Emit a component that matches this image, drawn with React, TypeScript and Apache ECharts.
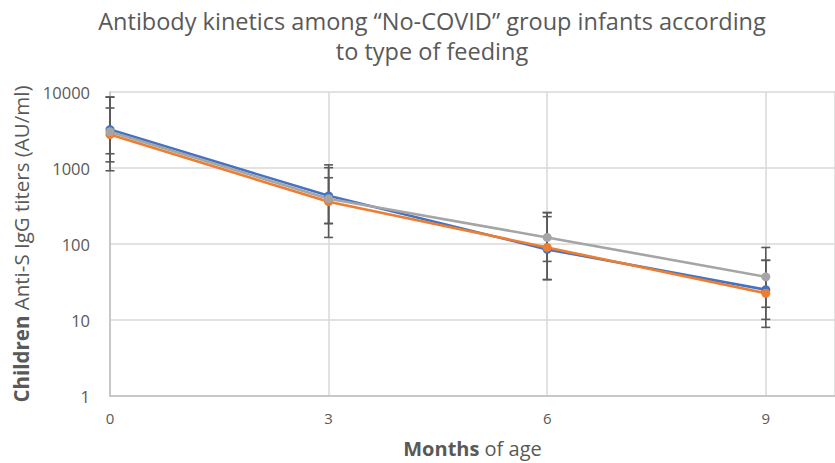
import React, { useEffect, useRef } from "react";
import * as echarts from "echarts";

const months = [0, 3, 6, 9];
const xTickLabels = ["0", "3", "6", "9"];
const yTickValues = [1, 10, 100, 1000, 10000];

const blueValues = [3200, 430, 85, 25];
const orangeValues = [2750, 360, 90, 22.5];
const grayValues = [3000, 395, 122, 37];

const blueLow = [1540, 186, 34, 10.2];
const blueHigh = [8570, 1100, 259, 61];
const orangeLow = [920, 122, 59, 8];
const orangeHigh = [6160, 745, 229, 61];
const grayLow = [1205, 186, 34, 14.7];
const grayHigh = [8570, 1010, 259, 90];

const seriesNames = ["Series1", "Series2", "Series3"];
const colors = ["#4472C4", "#ED7D31", "#A5A5A5"];

const FONT = "'Open Sans', sans-serif";
const TEXT = "#595959";

function errorSeries(low: number[], high: number[]) {
  return {
    type: "custom",
    z: 1,
    silent: true,
    data: months.map((m, i) => [m, low[i], high[i]]),
    encode: { x: 0, y: [1, 2] },
    renderItem: (params: any, api: any) => {
      const x = api.value(0);
      const p1 = api.coord([x, api.value(1)]);
      const p2 = api.coord([x, api.value(2)]);
      const w = 4.5;
      const style = { stroke: "#595959", lineWidth: 1.6 };
      return {
        type: "group",
        children: [
          { type: "line", shape: { x1: p1[0], y1: p1[1], x2: p2[0], y2: p2[1] }, style },
          { type: "line", shape: { x1: p1[0] - w, y1: p1[1], x2: p1[0] + w, y2: p1[1] }, style },
          { type: "line", shape: { x1: p2[0] - w, y1: p2[1], x2: p2[0] + w, y2: p2[1] }, style },
        ],
      };
    },
  };
}

function lineSeries(name: string, values: number[], color: string) {
  return {
    type: "line",
    name,
    z: 3,
    data: months.map((m, i) => [m, values[i]]),
    symbol: "circle",
    symbolSize: 9,
    showSymbol: true,
    lineStyle: { color, width: 2.6 },
    itemStyle: { color },
  };
}

export default function App() {
  const ref = useRef<HTMLDivElement>(null);
  useEffect(() => {
    document.body.style.margin = "0";
    const chart = echarts.init(ref.current!, null, { renderer: "svg" });
    chart.setOption({
      animation: false,
      backgroundColor: "#ffffff",
      textStyle: { fontFamily: FONT },
      title: {
        text: "Antibody kinetics among \u201cNo-COVID\u201d group infants according\nto type of feeding",
        left: 427,
        textAlign: "center",
        top: 1,
        textStyle: {
          fontFamily: FONT,
          fontSize: 23.5,
          fontWeight: "normal",
          color: TEXT,
          lineHeight: 30,
        },
      },
      grid: {
        left: 110,
        top: 92,
        width: 725,
        height: 304,
        containLabel: false,
        outerBoundsMode: "none",
      },
      xAxis: {
        type: "value",
        min: 0,
        max: 9.95,
        interval: 3,
        name: "{b|Months} of age",
        nameLocation: "middle",
        nameGap: 42,
        nameTextStyle: {
          fontFamily: FONT,
          fontSize: 20,
          color: TEXT,
          rich: { b: { fontWeight: "bold", fontSize: 20, color: TEXT, fontFamily: FONT } },
        },
        axisLine: { show: true, lineStyle: { color: "#BFBFBF", width: 1.5 } },
        axisTick: { show: false },
        splitLine: { show: true, lineStyle: { color: "#D9D9D9", width: 1.5 } },
        axisLabel: {
          color: TEXT,
          fontSize: 15,
          fontFamily: FONT,
          margin: 14,
          formatter: (v: number) => {
            const idx = months.indexOf(v);
            return idx >= 0 ? xTickLabels[idx] : "";
          },
        },
      },
      yAxis: {
        type: "log",
        logBase: 10,
        min: yTickValues[0],
        max: yTickValues[yTickValues.length - 1],
        name: "{b|Children} Anti-S IgG titers (AU/ml)",
        nameLocation: "middle",
        nameGap: 78,
        nameTextStyle: {
          fontFamily: FONT,
          fontSize: 20.5,
          color: TEXT,
          rich: { b: { fontWeight: "bold", fontSize: 20.5, color: TEXT, fontFamily: FONT } },
        },
        axisLine: { show: true, lineStyle: { color: "#BFBFBF", width: 1.5 } },
        axisTick: { show: false },
        splitLine: { show: true, lineStyle: { color: "#D9D9D9", width: 1.5 } },
        axisLabel: {
          color: TEXT,
          fontSize: 16.5,
          fontFamily: FONT,
          margin: 20,
          formatter: (v: number) => String(Math.round(v)),
        },
      },
      series: [
        errorSeries(blueLow, blueHigh),
        errorSeries(orangeLow, orangeHigh),
        errorSeries(grayLow, grayHigh),
        lineSeries(seriesNames[0], blueValues, colors[0]),
        lineSeries(seriesNames[1], orangeValues, colors[1]),
        lineSeries(seriesNames[2], grayValues, colors[2]),
      ],
    });
    return () => chart.dispose();
  }, []);
  return (
    <div
      ref={ref}
      style={{ position: "fixed", left: 0, top: 0, width: 835, height: 463 }}
    />
  );
}
